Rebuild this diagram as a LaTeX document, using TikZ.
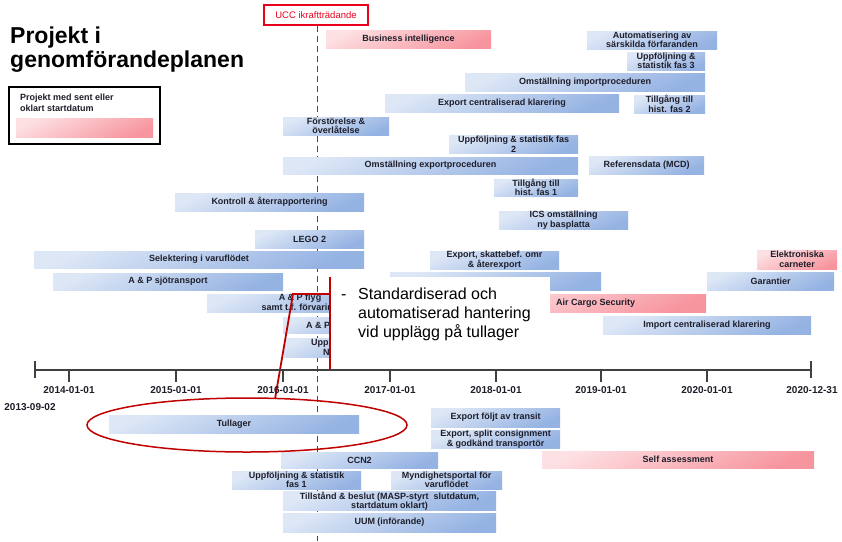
\documentclass[tikz,border=0pt]{standalone}
\usepackage{fontspec}
\setmainfont{Liberation Sans}
\usetikzlibrary{shapes.geometric}
\definecolor{bl1}{HTML}{DDE7F6}
\definecolor{bl2}{HTML}{94B2E2}
\definecolor{pk1}{HTML}{FDE0E3}
\definecolor{pk2}{HTML}{F7959E}
\definecolor{txt}{HTML}{1E1E2A}
\definecolor{cred}{HTML}{C00000}
\definecolor{ured}{HTML}{E8001C}
\definecolor{axc}{HTML}{404040}
\newcommand\barfont{\fontsize{9}{9.5}\selectfont\bfseries}
\newcommand\gbar[7][]{\node[barbox,#1,minimum width={(#5-#3)*1pt},minimum height={(#6-#4)*1pt}] (#2) at ({(#3+#5)/2},{(#4+#6)/2}) {#7};}
\begin{document}
\begin{tikzpicture}[x=1pt,y=-1pt,
  barbox/.style={inner sep=0pt,outer sep=0pt,align=center,text=txt,font=\barfont,top color=bl1,bottom color=bl2,shading angle=25},
  pinkbar/.style={top color=pk1,bottom color=pk2,shading angle=25},
  datelbl/.style={font=\fontsize{10}{11}\selectfont\bfseries,text=txt,inner sep=0pt},
  tick/.style={draw=axc,line width=1.3pt},
  calloutline/.style={draw=cred,line width=1.8pt},
  uccdash/.style={draw=ured,line width=0.9pt,dash pattern=on 6pt off 4pt}]
\useasboundingbox (0,0) rectangle (842,541);
\fill[white] (0,0) rectangle (842,541);

% title
\node[anchor=north west,align=left,inner sep=0pt,font=\fontsize{23}{24.5}\selectfont\bfseries] (title) at (10,26.5) {Projekt i\\genomförandeplanen};

% legend
\node[draw=black,line width=1.2pt,minimum width=151pt,minimum height=57pt,inner sep=0pt] (legend) at (84.5,115.5) {};
\node[anchor=north west,align=left,inner sep=0pt,font=\fontsize{9}{10.5}\selectfont\bfseries,text=txt] (legtxt) at (20,94) {Projekt med sent eller\\oklart startdatum};
\gbar[pinkbar]{legbar}{16}{118}{153}{137}{}

% UCC marker
\node[draw=ured,line width=1.2pt,text=ured,font=\fontsize{9.5}{11}\selectfont,minimum width=104pt,minimum height=20pt,inner sep=0pt] (ucc) at (316,15) {UCC ikraftträdande};
\coordinate (uccend) at (317,541);
\draw[uccdash] (ucc.south -| uccend) -- (uccend);

% bars above axis
\gbar[pinkbar]{bi}{326}{30}{491}{48}{Business intelligence}
\gbar{auto}{587}{31}{717}{49}{Automatisering av\\särskilda förfaranden}
\gbar{fasthree}{627}{52}{705}{70}{Uppföljning \&\\statistik fas 3}
\gbar{omimp}{465}{73}{705}{91}{Omställning importproceduren}
\gbar{expcent}{385}{94}{619}{112}{Export centraliserad klarering}
\gbar{histtwo}{634}{95}{705}{113}{Tillgång till\\hist. fas 2}
\gbar{forst}{283}{117}{389}{135}{Förstörelse \&\\överlåtelse}
\gbar{fastwo}{449}{135}{578}{153}{Uppföljning \& statistik fas\\2}
\gbar{omexp}{283}{157}{578}{174}{Omställning exportproceduren}
\gbar{ref}{589}{156}{704}{174}{Referensdata (MCD)}
\gbar{histone}{494}{179}{578}{196}{Tillgång till\\hist. fas 1}
\gbar{kontroll}{175}{193}{364}{211}{Kontroll \& återrapportering}
\gbar{ics}{499}{211}{628}{229}{ICS omställning\\ny basplatta}
\gbar{lego}{255}{230}{364}{248}{LEGO 2}
\gbar{sel}{34}{251}{364}{268}{Selektering i varuflödet}
\gbar{expsk}{430}{251}{559}{269}{Export, skattebef. omr\\\& återexport}
\gbar[pinkbar]{elek}{757}{250}{837}{269}{Elektroniska\\carneter}
\gbar{sjo}{53}{273}{283}{290}{A \& P sjötransport}
\gbar{ncts}{390}{272}{601}{290}{}
\gbar{gar}{707}{272}{834}{290}{Garantier}
\gbar{flyg}{207}{294}{393}{312}{A \& P flyg\\samt t.f. förvaring}
\gbar[pinkbar]{acs}{450}{294}{706}{312}{}
\node[anchor=west,inner sep=0pt,font=\barfont,text=txt] (acstxt) at (556,303) {Air Cargo Security};
\gbar{imp}{603}{316}{811}{334}{Import centraliserad klarering}
\gbar{apthree}{283}{317}{400}{333}{}
\node[anchor=west,inner sep=0pt,font=\barfont,text=txt] (aptxt) at (306,325) {A \& P};
\gbar{uppx}{284}{338}{400}{357}{}
\node[anchor=west,inner sep=0pt,font=\barfont,text=txt] (upptxt) at (311,343) {Upp};
\node[anchor=west,inner sep=0pt,font=\barfont,text=txt] (upptxtn) at (323,352) {N};

% bars below axis
\gbar{tull}{109}{415}{359}{433}{Tullager}
\gbar{expt}{431}{408}{560}{427}{Export följt av transit}
\gbar{expsplit}{431}{430}{560}{448}{Export, split consignment\\\& godkänd transportör}
\gbar[pinkbar]{self}{542}{451}{814}{468}{Self assessment}
\gbar{ccn}{281}{452}{438}{468}{CCN2}
\gbar{fasone}{232}{471}{361}{489}{Uppföljning \& statistik\\fas 1}
\gbar{mynd}{391}{471}{502}{489}{Myndighetsportal för\\varuflödet}
\gbar{till}{283}{492}{496}{510}{Tillstånd \& beslut (MASP-styrt\ \ slutdatum,\\startdatum oklart)}
\gbar{uum}{283}{513}{496}{532}{UUM (införande)}

% callout
\fill[white] (330,277) rectangle (550,362);
\coordinate (ctop) at (330,277);
\coordinate (cbot) at (330,369);
\coordinate (cknee) at (330,294);
\coordinate (celb) at (293,294);
\node[draw=cred,line width=1.5pt,ellipse,minimum width=320pt,minimum height=54pt,inner sep=0pt] (ell) at (247,425) {};
\coordinate (etop) at (275,399);
\draw[calloutline] (ctop) -- (cbot);
\draw[calloutline] (cknee) -- (celb) -- (etop);
\node[anchor=base west,inner sep=0pt,font=\fontsize{16}{19}\selectfont] (cdash) at (341,299) {-};
\node[anchor=north west,align=left,inner sep=0pt,font=\fontsize{16}{19}\selectfont] (ctext) at (358,287.5) {Standardiserad och\\automatiserad hantering\\vid upplägg på tullager};

% axis
\coordinate (a0) at (35,370);
\coordinate (a1) at (811,370);
\draw[tick] (a0) -- (a1);
\draw[tick] (35,361) -- (35,378);
\draw[tick] (811,361) -- (811,378);
\foreach \xx in {69,176,283,390,496,601,707} {\draw[tick] (\xx,370) -- (\xx,382);}
\node[datelbl] (dstart) at (30,407) {2013-09-02};
\node[datelbl] (d14) at (69,390) {2014-01-01};
\node[datelbl] (d15) at (176,390) {2015-01-01};
\node[datelbl] (d16) at (283,390) {2016-01-01};
\node[datelbl] (d17) at (390,390) {2017-01-01};
\node[datelbl] (d18) at (496,390) {2018-01-01};
\node[datelbl] (d19) at (601,390) {2019-01-01};
\node[datelbl] (d20) at (707,390) {2020-01-01};
\node[datelbl] (dend) at (812,390) {2020-12-31};
\end{tikzpicture}
\end{document}
